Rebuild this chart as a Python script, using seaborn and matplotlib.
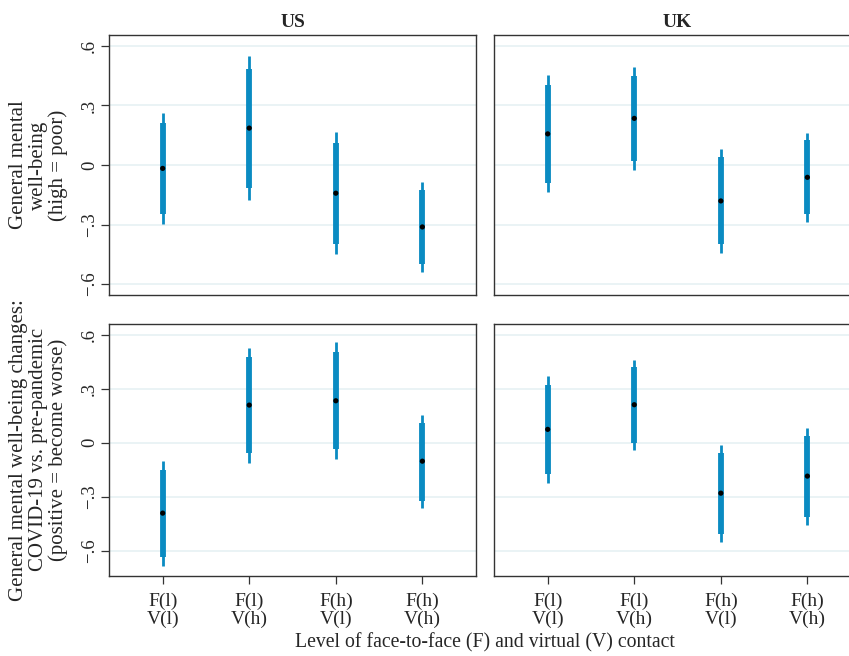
import pandas as pd
import matplotlib.pyplot as plt
import seaborn as sns
import numpy as np

# contact groups (x axis)
groups = ["F(l)\nV(l)", "F(l)\nV(h)", "F(h)\nV(l)", "F(h)\nV(h)"]
countries = ["US", "UK"]
outcomes = ["level", "change"]

# point estimates and intervals, order: groups
us_level_est = [-0.017, 0.186, -0.142, -0.312]
us_level_lo95 = [-0.295, -0.177, -0.449, -0.539]
us_level_hi95 = [0.263, 0.548, 0.164, -0.085]
us_level_lo90 = [-0.248, -0.116, -0.399, -0.501]
us_level_hi90 = [0.213, 0.486, 0.112, -0.124]

uk_level_est = [0.157, 0.235, -0.181, -0.062]
uk_level_lo95 = [-0.137, -0.027, -0.441, -0.286]
uk_level_hi95 = [0.456, 0.492, 0.080, 0.161]
uk_level_lo90 = [-0.090, 0.019, -0.397, -0.248]
uk_level_hi90 = [0.405, 0.451, 0.039, 0.124]

us_change_est = [-0.392, 0.209, 0.233, -0.103]
us_change_lo95 = [-0.686, -0.111, -0.090, -0.362]
us_change_hi95 = [-0.101, 0.527, 0.558, 0.155]
us_change_lo90 = [-0.636, -0.057, -0.037, -0.322]
us_change_hi90 = [-0.151, 0.474, 0.505, 0.111]

uk_change_est = [0.074, 0.211, -0.281, -0.186]
uk_change_lo95 = [-0.225, -0.040, -0.552, -0.456]
uk_change_hi95 = [0.370, 0.462, -0.013, 0.082]
uk_change_lo90 = [-0.177, 0.000, -0.508, -0.414]
uk_change_hi90 = [0.322, 0.420, -0.059, 0.037]

ylabels = {
    "level": "General mental\nwell-being\n(high = poor)",
    "change": "General mental well-being changes:\nCOVID-19 vs. pre-pandemic\n(positive = become worse)",
}
yticks = [-0.6, -0.3, 0, 0.3, 0.6]
ytick_labels = ["\u2212.6", "\u2212.3", "0", ".3", ".6"]

rows = []
src = {
    ("US", "level"): (us_level_est, us_level_lo95, us_level_hi95, us_level_lo90, us_level_hi90),
    ("UK", "level"): (uk_level_est, uk_level_lo95, uk_level_hi95, uk_level_lo90, uk_level_hi90),
    ("US", "change"): (us_change_est, us_change_lo95, us_change_hi95, us_change_lo90, us_change_hi90),
    ("UK", "change"): (uk_change_est, uk_change_lo95, uk_change_hi95, uk_change_lo90, uk_change_hi90),
}
for (c, o), (est, lo95, hi95, lo90, hi90) in src.items():
    for i, g in enumerate(groups):
        rows.append(dict(country=c, outcome=o, group=g, pos=i + 1, est=est[i],
                         lo95=lo95[i], hi95=hi95[i], lo90=lo90[i], hi90=hi90[i]))
df = pd.DataFrame(rows)

sns.set_style("white")
plt.rcParams["font.family"] = ["Liberation Serif", "DejaVu Serif"]

blue = "#0A8BC2"
fig = plt.figure(figsize=(8.49, 6.56), dpi=100)

axpos = {
    ("US", "level"): [0.1284, 0.5503, 0.4323, 0.3963],
    ("UK", "level"): [0.5819, 0.5503, 0.4323, 0.3963],
    ("US", "change"): [0.1284, 0.1224, 0.4323, 0.3837],
    ("UK", "change"): [0.5819, 0.1224, 0.4323, 0.3837],
}
ylims = {"level": (-0.655, 0.655), "change": (-0.74, 0.66)}

for (c, o), pos in axpos.items():
    ax = fig.add_axes(pos)
    d = df[(df.country == c) & (df.outcome == o)]
    for y in yticks:
        ax.axhline(y, color="#E6F1F4", lw=1.2, zorder=0)
    ax.vlines(d["pos"], d["lo95"], d["hi95"], color=blue, lw=2.0, zorder=2)
    ax.vlines(d["pos"], d["lo90"], d["hi90"], color=blue, lw=4.2, zorder=3)
    sns.scatterplot(data=d, x="pos", y="est", ax=ax, color="black", s=14,
                    edgecolor="none", zorder=4, legend=False)
    ax.set_xlim(0.38, 4.62)
    ax.set_ylim(*ylims[o])
    ax.set_xlabel("")
    ax.set_ylabel("")
    for sp in ax.spines.values():
        sp.set_color("#333333")
        sp.set_linewidth(1.0)
    if c == "US":
        ax.set_yticks(yticks)
        ax.set_yticklabels(ytick_labels, rotation=90, va="center", fontsize=13.5)
        ax.tick_params(axis="y", left=True, length=6, width=0.9, color="#333333", pad=2)
        ax.set_ylabel(ylabels[o], fontsize=15, labelpad=9, linespacing=1.05)
    else:
        ax.set_yticks(yticks)
        ax.set_yticklabels([])
        ax.tick_params(axis="y", left=False)
    if o == "change":
        ax.set_xticks(range(1, 5))
        ax.set_xticklabels(groups, fontsize=14, linespacing=1.1)
        ax.tick_params(axis="x", bottom=True, length=6, width=0.9, color="#333333", pad=6)
    else:
        ax.set_xticks([])
        ax.set_title(c, fontsize=14, fontweight="bold", pad=6)

fig.text(0.571, 0.02, "Level of face-to-face (F) and virtual (V) contact", ha="center",
         va="center", fontsize=14.2)

fig.savefig("out.png", dpi=100)
